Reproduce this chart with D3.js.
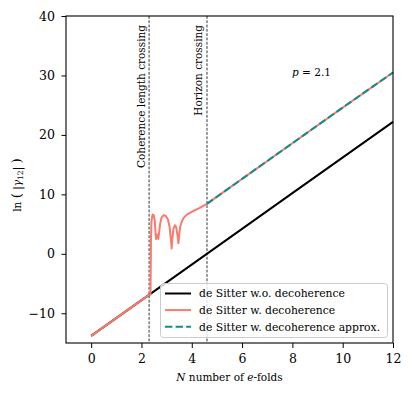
<!DOCTYPE html>
<html>
<head>
<meta charset="utf-8">
<title>de Sitter decoherence</title>
<script src="https://cdnjs.cloudflare.com/ajax/libs/d3/7.8.5/d3.min.js"></script>
<style>
  body { margin: 0; background: #fff; }
  svg text { font-family: "DejaVu Serif", "Liberation Serif", serif; fill: #000; }
  .tick text { font-size: 12.5px; }
  .legend text { font-size: 10.8px; }
</style>
</head>
<body>
<svg width="412" height="395"></svg>
<script>
// --- data ---
var xTicks = [0, 2, 4, 6, 8, 10, 12];
var yTicks = [-10, 0, 10, 20, 30, 40];

// de Sitter without decoherence (straight line)
var blackN = [0, 2.3, 4.6, 8, 12];
var blackY = [-13.8, -6.9, 0.0, 10.2, 22.2];

// de Sitter with decoherence
var redN = [0, 2.30, 2.36, 2.38, 2.40, 2.44, 2.49, 2.53, 2.56, 2.58, 2.61, 2.65, 2.67, 2.70, 2.74,
            2.80, 2.88, 2.96, 3.05, 3.12, 3.17, 3.20, 3.23, 3.27, 3.33, 3.38, 3.43, 3.47, 3.50,
            3.54, 3.60, 3.67, 3.80, 4.06, 4.30, 4.60, 6, 8, 10, 12];
var redY = [-13.8, -6.9, -6.8, 3.0, 5.5, 6.6, 6.5, 5.5, 3.5, 2.5, 3.2, 3.2, 2.5, 3.5, 5.0,
            6.1, 6.5, 6.4, 5.8, 4.5, 2.5, 0.9, 2.5, 4.2, 4.8, 4.5, 3.2, 1.8, 3.2,
            4.6, 5.4, 6.0, 6.6, 7.2, 7.7, 8.4, 12.6, 18.6, 24.6, 30.5];

// approximation after horizon crossing
var approxN = [4.6, 6, 8, 10, 12];
var approxY = [8.4, 12.6, 18.6, 24.6, 30.5];

var coherenceN = 2.303, horizonN = 4.605;
var legendLabels = ["de Sitter w.o. decoherence", "de Sitter w. decoherence", "de Sitter w. decoherence approx."];

var svg = d3.select("svg");
var pLeft = 66, pRight = 393, pTop = 16, pBottom = 343;

var x = d3.scaleLinear().domain([-1, 12]).range([pLeft, pRight]);
var y = d3.scaleLinear().domain([-15, 40]).range([pBottom, pTop]);

var line = d3.line()
    .x(function(d) { return x(d[0]); })
    .y(function(d) { return y(d[1]); });

function pairs(a, b) { return a.map(function(v, i) { return [v, b[i]]; }); }

var plot = svg.append("g");

// crossing markers
[coherenceN, horizonN].forEach(function(n) {
  plot.append("line")
      .attr("x1", x(n)).attr("x2", x(n))
      .attr("y1", pTop).attr("y2", pBottom)
      .attr("stroke", "#000").attr("stroke-width", 0.8)
      .attr("stroke-dasharray", "2.8,1.5");
});

plot.append("path")
    .datum(pairs(blackN, blackY))
    .attr("d", line)
    .attr("fill", "none").attr("stroke", "#000").attr("stroke-width", 2);

plot.append("path")
    .datum(pairs(redN, redY))
    .attr("d", line)
    .attr("fill", "none").attr("stroke", "#fa7a6e").attr("stroke-width", 2)
    .attr("stroke-linejoin", "round");

plot.append("path")
    .datum(pairs(approxN, approxY))
    .attr("d", line)
    .attr("fill", "none").attr("stroke", "#0b9189").attr("stroke-width", 2)
    .attr("stroke-dasharray", "7.4,3.2");

// rotated annotations
svg.append("text")
    .attr("transform", "translate(" + (x(coherenceN) - 4.5) + "," + 25 + ") rotate(-90)")
    .attr("text-anchor", "end")
    .style("font-size", "10.5px")
    .text("Coherence length crossing");

svg.append("text")
    .attr("transform", "translate(" + (x(horizonN) - 4.5) + "," + 25 + ") rotate(-90)")
    .attr("text-anchor", "end")
    .style("font-size", "10.5px")
    .text("Horizon crossing");

var pt = svg.append("text").attr("x", 292).attr("y", 76).style("font-size", "10.5px");
pt.append("tspan").style("font-style", "italic").text("p");
pt.append("tspan").text(" = 2.1");

// axes
var xAxis = svg.append("g")
    .attr("transform", "translate(0," + pBottom + ")")
    .call(d3.axisBottom(x).tickValues(xTicks).tickSize(5).tickPadding(6).tickFormat(d3.format("d")));
var yAxis = svg.append("g")
    .attr("transform", "translate(" + pLeft + ",0)")
    .call(d3.axisLeft(y).tickValues(yTicks).tickSize(4.5).tickPadding(6.5)
      .tickFormat(function(d) { return d < 0 ? "\u2212" + Math.abs(d) : d; }));
[xAxis, yAxis].forEach(function(a) {
  a.attr("font-family", null).attr("font-size", null);
  a.select(".domain").remove();
  a.selectAll(".tick line").attr("stroke", "#000").attr("stroke-width", 1);
});

svg.append("rect")
    .attr("x", pLeft).attr("y", pTop)
    .attr("width", pRight - pLeft).attr("height", pBottom - pTop)
    .attr("fill", "none").attr("stroke", "#000").attr("stroke-width", 1.1);

// axis labels
var xl = svg.append("text")
    .attr("x", (pLeft + pRight) / 2).attr("y", 381)
    .attr("text-anchor", "middle").style("font-size", "10.5px");
xl.append("tspan").style("font-style", "italic").text("N");
xl.append("tspan").text(" number of ");
xl.append("tspan").style("font-style", "italic").text("e");
xl.append("tspan").text("-folds");

var yl = svg.append("text")
    .attr("transform", "translate(21," + 185 + ") rotate(-90)")
    .attr("text-anchor", "middle").style("font-size", "10.5px");
yl.append("tspan").text("ln ");
yl.append("tspan").style("font-size", "13.5px").text("(");
yl.append("tspan").text(" |");
yl.append("tspan").style("font-style", "italic").text("\u03b3");
yl.append("tspan").attr("dy", 2).style("font-size", "7.5px").text("12");
yl.append("tspan").attr("dy", -2).text("| ");
yl.append("tspan").style("font-size", "13.5px").text(")");

// legend
var legend = svg.append("g").attr("class", "legend");
legend.append("rect")
    .attr("x", 160.5).attr("y", 283.5).attr("width", 227).attr("height", 54)
    .attr("rx", 3)
    .attr("fill", "#fff").attr("fill-opacity", 0.8)
    .attr("stroke", "#cccccc").attr("stroke-width", 1);
var legendStyles = [
  { color: "#000", dash: null },
  { color: "#fa7a6e", dash: null },
  { color: "#0b9189", dash: "7.4,3.2" }
];
legendLabels.forEach(function(label, i) {
  var yy = 293.5 + i * 16.6;
  legend.append("line")
      .attr("x1", 165).attr("x2", 191).attr("y1", yy).attr("y2", yy)
      .attr("stroke", legendStyles[i].color).attr("stroke-width", 2)
      .attr("stroke-dasharray", legendStyles[i].dash);
  legend.append("text").attr("x", 199).attr("y", yy + 3.8).text(label);
});
</script>
</body>
</html>
